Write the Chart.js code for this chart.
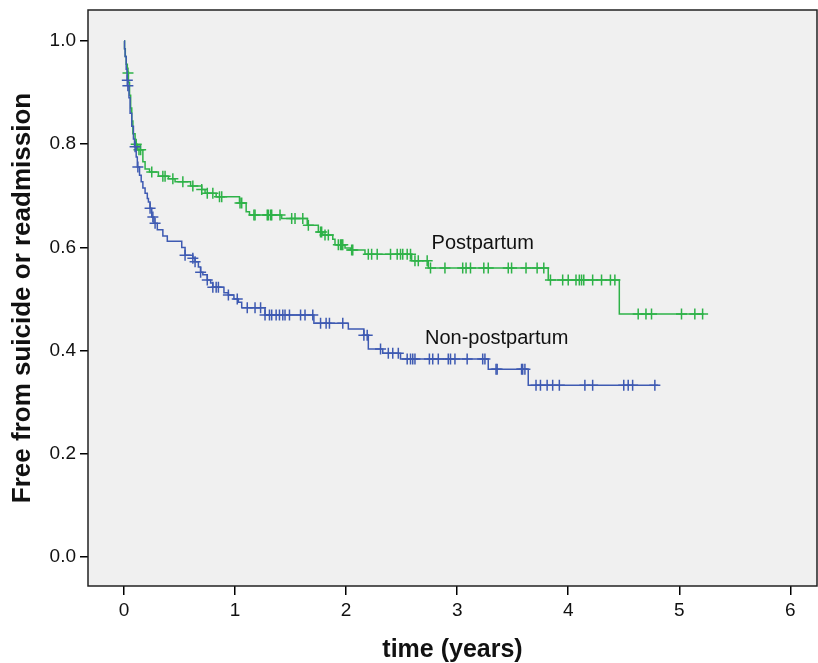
<!DOCTYPE html>
<html><head><meta charset="utf-8">
<script src="https://cdn.jsdelivr.net/npm/chart.js@4"></script>
<style>html,body{margin:0;padding:0;background:#fff;overflow:hidden;width:818px;height:663px}#wrap{width:824px;height:663px;position:relative}</style>
</head><body><div id="wrap"><canvas id="c"></canvas></div>
<script>
// ---- data ----
const xTicks = [0, 1, 2, 3, 4, 5, 6];
const yTicks = [0.0, 0.2, 0.4, 0.6, 0.8, 1.0];

// Postpartum: event times and survival after each step
const postT = [0, 0.005, 0.012, 0.02, 0.03, 0.04, 0.05, 0.06, 0.07, 0.08, 0.10, 0.12, 0.17, 0.19, 0.23, 0.31, 0.40, 0.46, 0.60, 0.70, 0.73, 0.83, 1.04, 1.10, 1.13, 1.42, 1.65, 1.75, 1.79, 1.88, 1.90, 1.99, 2.04, 2.17, 2.59, 2.74, 3.82, 4.46, 5.22];
const postS = [1.0, 0.985, 0.97, 0.955, 0.94, 0.92, 0.895, 0.87, 0.845, 0.82, 0.80, 0.789, 0.766, 0.752, 0.746, 0.738, 0.733, 0.727, 0.719, 0.712, 0.705, 0.698, 0.686, 0.669, 0.663, 0.656, 0.643, 0.630, 0.624, 0.616, 0.605, 0.599, 0.595, 0.587, 0.574, 0.560, 0.537, 0.471, 0.471];
// Postpartum censored observations
const postCensT = [0.036, 0.11, 0.135, 0.15, 0.25, 0.35, 0.37, 0.44, 0.53, 0.62, 0.70, 0.75, 0.80, 0.86, 0.88, 1.045, 1.06, 1.17, 1.18, 1.29, 1.30, 1.32, 1.33, 1.405, 1.51, 1.54, 1.61, 1.66, 1.77, 1.78, 1.81, 1.84, 1.93, 1.95, 1.96, 1.97, 2.05, 2.06, 2.20, 2.23, 2.28, 2.40, 2.46, 2.49, 2.51, 2.55, 2.58, 2.62, 2.65, 2.73, 2.76, 2.89, 3.05, 3.08, 3.12, 3.24, 3.28, 3.46, 3.49, 3.62, 3.72, 3.78, 3.84, 3.95, 4.00, 4.07, 4.10, 4.12, 4.14, 4.22, 4.30, 4.38, 4.42, 4.63, 4.70, 4.75, 5.02, 5.14, 5.21];
const postCensS = [0.938, 0.80, 0.789, 0.789, 0.746, 0.738, 0.738, 0.733, 0.727, 0.719, 0.712, 0.705, 0.705, 0.698, 0.698, 0.686, 0.686, 0.663, 0.663, 0.663, 0.663, 0.663, 0.663, 0.663, 0.656, 0.656, 0.656, 0.643, 0.630, 0.630, 0.624, 0.624, 0.605, 0.605, 0.605, 0.605, 0.595, 0.595, 0.587, 0.587, 0.587, 0.587, 0.587, 0.587, 0.587, 0.587, 0.587, 0.574, 0.574, 0.574, 0.560, 0.560, 0.560, 0.560, 0.560, 0.560, 0.560, 0.560, 0.560, 0.560, 0.560, 0.560, 0.537, 0.537, 0.537, 0.537, 0.537, 0.537, 0.537, 0.537, 0.537, 0.537, 0.537, 0.471, 0.471, 0.471, 0.471, 0.471, 0.471];

// Non-postpartum
const nonT = [0, 0.005, 0.01, 0.02, 0.028, 0.033, 0.045, 0.055, 0.07, 0.085, 0.095, 0.11, 0.12, 0.14, 0.155, 0.17, 0.19, 0.21, 0.22, 0.235, 0.25, 0.27, 0.30, 0.35, 0.39, 0.52, 0.55, 0.62, 0.64, 0.67, 0.69, 0.71, 0.75, 0.78, 0.80, 0.90, 0.94, 0.99, 1.03, 1.06, 1.27, 1.71, 2.02, 2.16, 2.20, 2.33, 2.49, 3.28, 3.64, 4.81];
const nonS = [1.0, 0.985, 0.97, 0.945, 0.924, 0.913, 0.89, 0.86, 0.835, 0.81, 0.795, 0.775, 0.756, 0.74, 0.727, 0.715, 0.705, 0.695, 0.688, 0.676, 0.659, 0.647, 0.634, 0.622, 0.612, 0.600, 0.585, 0.579, 0.572, 0.562, 0.552, 0.547, 0.537, 0.531, 0.523, 0.512, 0.508, 0.500, 0.494, 0.483, 0.469, 0.453, 0.442, 0.430, 0.403, 0.395, 0.384, 0.364, 0.333, 0.333];
const nonCensT = [0.03, 0.035, 0.10, 0.125, 0.235, 0.26, 0.28, 0.55, 0.62, 0.64, 0.69, 0.75, 0.80, 0.83, 0.85, 0.94, 1.02, 1.11, 1.18, 1.23, 1.27, 1.31, 1.33, 1.37, 1.40, 1.43, 1.45, 1.49, 1.59, 1.63, 1.70, 1.77, 1.82, 1.85, 1.97, 2.16, 2.19, 2.31, 2.38, 2.42, 2.47, 2.55, 2.58, 2.60, 2.62, 2.75, 2.78, 2.83, 2.92, 2.94, 2.98, 3.09, 3.23, 3.25, 3.35, 3.36, 3.58, 3.59, 3.61, 3.71, 3.75, 3.81, 3.86, 3.92, 4.15, 4.22, 4.50, 4.54, 4.58, 4.78];
const nonCensS = [0.924, 0.913, 0.795, 0.756, 0.676, 0.659, 0.647, 0.585, 0.579, 0.572, 0.552, 0.537, 0.523, 0.523, 0.523, 0.508, 0.500, 0.483, 0.483, 0.483, 0.469, 0.469, 0.469, 0.469, 0.469, 0.469, 0.469, 0.469, 0.469, 0.469, 0.469, 0.453, 0.453, 0.453, 0.453, 0.430, 0.430, 0.403, 0.395, 0.395, 0.395, 0.384, 0.384, 0.384, 0.384, 0.384, 0.384, 0.384, 0.384, 0.384, 0.384, 0.384, 0.384, 0.384, 0.364, 0.364, 0.364, 0.364, 0.364, 0.333, 0.333, 0.333, 0.333, 0.333, 0.333, 0.333, 0.333, 0.333, 0.333, 0.333];

const curveLabels = ['Postpartum', 'Non-postpartum'];
const labelT = [2.77, 2.71];
const labelS = [0.608, 0.424];

const GREEN = 'rgb(46,178,72)';
const BLUE = 'rgb(62,90,178)';
const FONT = '"Liberation Sans", Arial, sans-serif';

const pts = (t, s) => t.map((v, i) => ({x: v, y: s[i]}));

const frameAndLabels = {
  id: 'frameAndLabels',
  beforeDraw(chart) {
    const {ctx, chartArea: a} = chart;
    ctx.save();
    ctx.fillStyle = '#f0f0f0';
    ctx.fillRect(a.left, a.top, a.right - a.left, a.bottom - a.top);
    ctx.restore();
  },
  afterDraw(chart) {
    const {ctx, chartArea: a, scales} = chart;
    ctx.save();
    ctx.strokeStyle = '#222';
    ctx.lineWidth = 1.5;
    ctx.strokeRect(a.left, a.top, a.right - a.left, a.bottom - a.top);
    ctx.fillStyle = '#111';
    ctx.font = '20px ' + FONT;
    ctx.textBaseline = 'middle';
    ctx.textAlign = 'left';
    curveLabels.forEach((txt, i) => {
      ctx.fillText(txt, scales.x.getPixelForValue(labelT[i]), scales.y.getPixelForValue(labelS[i]));
    });
    ctx.restore();
  }
};

new Chart(document.getElementById('c'), {
  type: 'scatter',
  data: {
    datasets: [
      {label: 'Non-postpartum', data: pts(nonT, nonS), showLine: true, stepped: 'before', borderColor: BLUE, borderWidth: 1.5, pointRadius: 0, fill: false},
      {label: 'Non-postpartum censored', data: pts(nonCensT, nonCensS), showLine: false, pointStyle: 'cross', pointRadius: 5.5, borderColor: BLUE, borderWidth: 1.5, pointBorderColor: BLUE},
      {label: 'Postpartum', data: pts(postT, postS), showLine: true, stepped: 'before', borderColor: GREEN, borderWidth: 1.5, pointRadius: 0, fill: false},
      {label: 'Postpartum censored', data: pts(postCensT, postCensS), showLine: false, pointStyle: 'cross', pointRadius: 5.5, borderColor: GREEN, borderWidth: 1.5, pointBorderColor: GREEN}
    ]
  },
  options: {
    responsive: true,
    maintainAspectRatio: false,
    animation: false,
    events: [],
    layout: {padding: {top: 10, right: 1, left: 0, bottom: 0}},
    plugins: {legend: {display: false}, tooltip: {enabled: false}},
    scales: {
      x: {
        type: 'linear', min: -0.324, max: 6.24,
        afterBuildTicks: s => { s.ticks = xTicks.map(v => ({value: v})); },
        afterFit: s => { s.height = 77; s.paddingLeft = 0; s.paddingRight = 0; },
        grid: {drawOnChartArea: false, drawTicks: true, tickLength: 9, color: '#000', lineWidth: 1.5},
        border: {display: false},
        ticks: {color: '#111', padding: 4, font: {family: FONT, size: 19}, callback: v => String(v), maxRotation: 0},
        title: {display: true, text: 'time (years)', color: '#111', font: {family: FONT, size: 25, weight: 'bold', lineHeight: 1.05}, padding: {top: 0, bottom: 0}}
      },
      y: {
        type: 'linear', min: -0.056, max: 1.06,
        afterBuildTicks: s => { s.ticks = yTicks.map(v => ({value: v})); },
        afterFit: s => { s.width = 88; s.paddingTop = 0; s.paddingBottom = 0; },
        grid: {drawOnChartArea: false, drawTicks: true, tickLength: 8, color: '#000', lineWidth: 1.5},
        border: {display: false},
        ticks: {color: '#111', padding: 4, font: {family: FONT, size: 19}, callback: v => v.toFixed(1)},
        title: {display: true, text: 'Free from suicide or readmission', color: '#111', font: {family: FONT, size: 26, weight: 'bold'}, padding: {top: 7, bottom: 0}}
      }
    }
  },
  plugins: [frameAndLabels]
});
</script>
</body></html>
